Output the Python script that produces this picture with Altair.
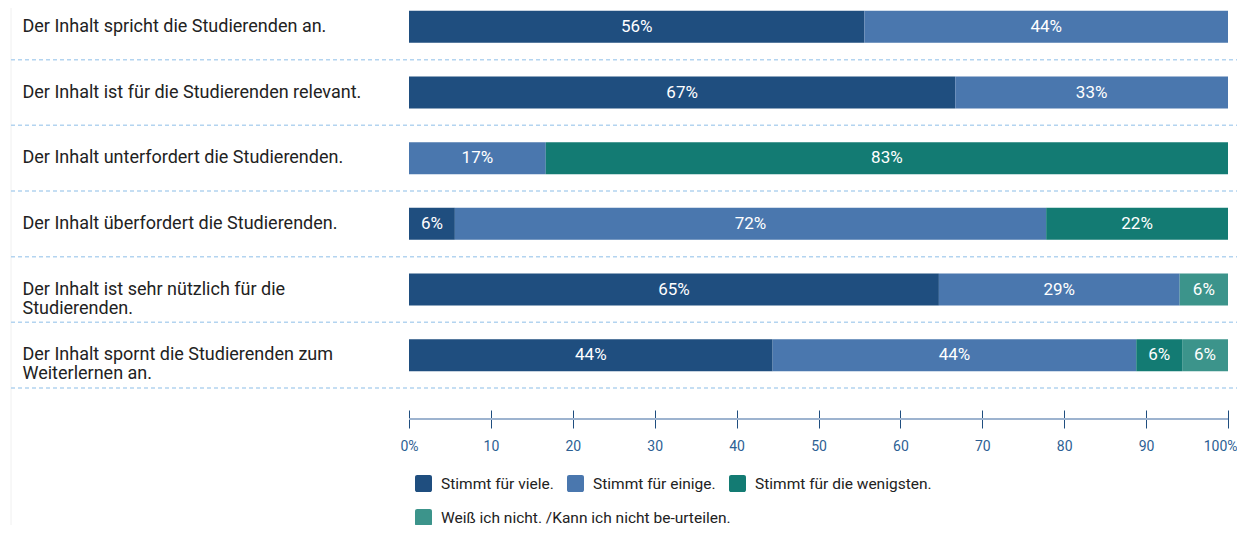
import altair as alt
import pandas as pd

statements = [
    "Der Inhalt spricht die Studierenden an.",
    "Der Inhalt ist für die Studierenden relevant.",
    "Der Inhalt unterfordert die Studierenden.",
    "Der Inhalt überfordert die Studierenden.",
    "Der Inhalt ist sehr nützlich für die\nStudierenden.",
    "Der Inhalt spornt die Studierenden zum\nWeiterlernen an.",
]
categories = [
    "Stimmt für viele.",
    "Stimmt für einige.",
    "Stimmt für die wenigsten.",
    "Weiß ich nicht. /Kann ich nicht be-urteilen.",
]
colors = ["#1f4e7f", "#4a77ae", "#137b73", "#3c948b"]

viele = [55.6, 66.7, 0.0, 5.6, 64.7, 44.4]
einige = [44.4, 33.3, 16.7, 72.2, 29.4, 44.4]
wenigsten = [0.0, 0.0, 83.3, 22.2, 0.0, 5.6]
weiss = [0.0, 0.0, 0.0, 0.0, 5.9, 5.6]
x_ticks = [0, 10, 20, 30, 40, 50, 60, 70, 80, 90, 100]

rows = []
for series, cat, order in zip([viele, einige, wenigsten, weiss], categories, range(4)):
    for st, v in zip(statements, series):
        rows.append({"statement": st, "category": cat, "order": order, "value": v})
df = pd.DataFrame(rows)

y_scale = alt.Scale(domain=statements, range=[-14, 380], paddingInner=0, paddingOuter=0)
y_axis = alt.Axis(
    title=None, domain=False, ticks=False, grid=False,
    labelAlign="left", labelPadding=387, labelLimit=420,
    labelFontSize=18, labelColor="#222222", labelLineHeight=19,
    labelBaseline="middle", labelExpr="split(datum.label, '\\n')",
)
x_scale = alt.Scale(domain=[0, 100], nice=False, zero=True)
x_axis = alt.Axis(
    title=None, values=x_ticks, domain=False, grid=False,
    tickSize=18, tickColor="#1f4e7f", tickWidth=1, offset=22,
    labelPadding=11, labelColor="#2d5f94", labelFontSize=14, labelFlush=False,
    labelAlign={"condition": {"test": "datum.value == 100", "value": "right"}, "value": "center"},
    labelOffset={"condition": {"test": "datum.value == 100", "value": 9}, "value": 0},
    labelExpr="datum.value == 0 ? '0%' : (datum.value == 100 ? '100%' : datum.label)",
)


def Y(**kw):
    return alt.Y("statement:N", scale=y_scale, axis=y_axis, sort=statements, **kw)


def X(field):
    return alt.X(field, scale=x_scale, axis=x_axis)


base = (
    alt.Chart(df)
    .transform_filter("datum.value > 0")
    .transform_stack(stack="value", groupby=["statement"], as_=["x0", "x1"],
                     sort=[alt.SortField("order", order="ascending")])
    .transform_calculate(mid="(datum.x0 + datum.x1) / 2",
                         label="round(datum.value) + '%'")
)

legend_common = dict(
    orient="none", direction="horizontal", title=None,
    labelFontSize=15.5, labelColor="#222222", labelOffset=9, labelLimit=500,
    columnPadding=13, symbolSize=289, symbolStrokeWidth=0,
    symbolType="M-0.75,-1H0.75A0.25,0.25 0 0 1 1,-0.75V0.75A0.25,0.25 0 0 1 0.75,1H-0.75A0.25,0.25 0 0 1 -1,0.75V-0.75A0.25,0.25 0 0 1 -0.75,-1Z",
)

bars_a = base.transform_filter(
    alt.FieldOneOfPredicate(field="category", oneOf=categories[:3])
).mark_bar(height=32).encode(
    y=Y(), x=X("x0:Q"), x2="x1:Q",
    color=alt.Color("category:N",
                    scale=alt.Scale(domain=categories[:3], range=colors[:3]),
                    legend=alt.Legend(legendX=6, legendY=467, **legend_common)),
)

bars_b = base.transform_filter(
    alt.FieldEqualPredicate(field="category", equal=categories[3])
).mark_bar(height=32).encode(
    y=Y(), x=X("x0:Q"), x2="x1:Q",
    color=alt.Color("category:N",
                    scale=alt.Scale(domain=categories[3:], range=colors[3:]),
                    legend=alt.Legend(legendX=6, legendY=501, **legend_common)),
)

labels = base.mark_text(color="white", fontSize=17).encode(
    y=Y(), x=X("mid:Q"), text="label:N"
)

seps = alt.Chart(pd.DataFrame({"statement": statements})).mark_rule(
    color="#b3d4f0", strokeWidth=1.5, strokeDash=[4, 3]
).encode(
    y=Y(bandPosition=1), x=alt.value(-398), x2=alt.value(836)
)

edge = alt.Chart(pd.DataFrame({"e": [0]})).mark_rule(
    color="#f0f0f0", strokeWidth=1
).encode(x=alt.value(-398), y=alt.value(-8), y2=alt.value(540))

axis_line = alt.Chart(pd.DataFrame({"a": [0], "b": [100]})).mark_rule(
    color="#9db3cf", strokeWidth=2
).encode(x=X("a:Q"), x2="b:Q", y=alt.value(411))

chart = (
    alt.layer(edge, seps, bars_a, bars_b, labels, axis_line)
    .resolve_scale(color="independent")
    .properties(width=819, height=380,
                autosize=alt.AutoSizeParams(type="none"),
                padding={"left": 401, "top": 0, "right": 9, "bottom": 137})
    .configure(font="Roboto")
    .configure_view(stroke=None)
)

chart.save("out.html", embed_options={"renderer": "svg", "actions": False})
